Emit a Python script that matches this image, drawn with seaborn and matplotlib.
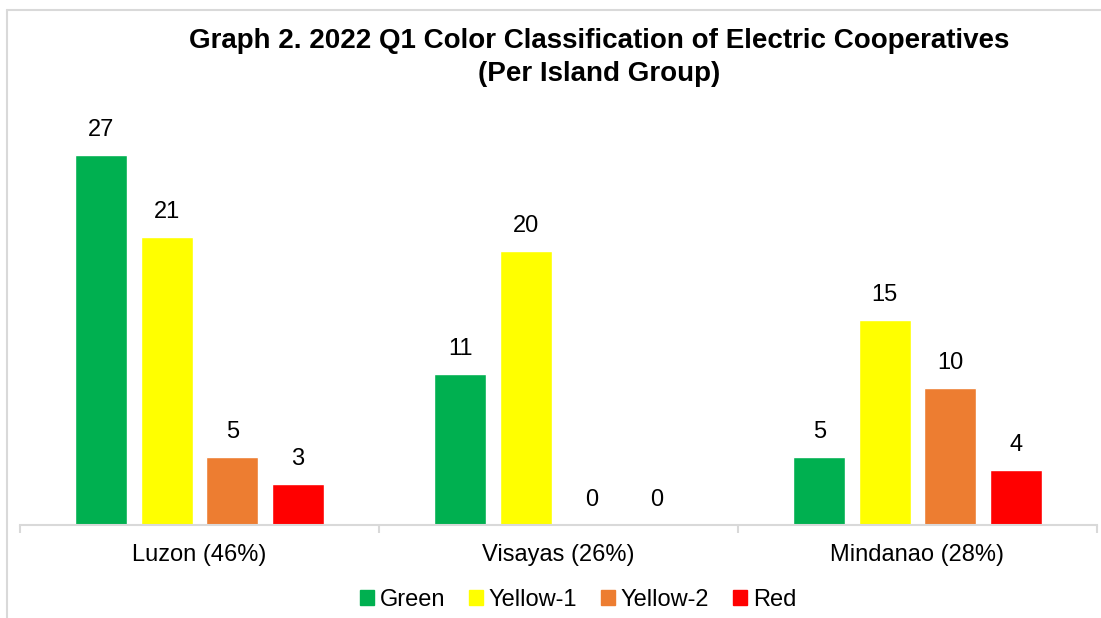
import pandas as pd
import numpy as np
import matplotlib.pyplot as plt
import seaborn as sns
from matplotlib.lines import Line2D

# Chart values
islands = ['Luzon (46%)', 'Visayas (26%)', 'Mindanao (28%)']
classes = ['Green', 'Yellow-1', 'Yellow-2', 'Red']
green = [27, 11, 5]
yellow1 = [21, 20, 15]
yellow2 = [5, 0, 10]
red = [3, 0, 4]
palette = ['#00B050', '#FFFF00', '#ED7D31', '#FF0000']

# Long-format table for seaborn
rows = []
for cls, vals in zip(classes, [green, yellow1, yellow2, red]):
    for isl, v in zip(islands, vals):
        rows.append({'Island': isl, 'Class': cls, 'Count': v})
df = pd.DataFrame(rows)

sns.set_style('white')
plt.rcParams['font.family'] = ['Liberation Sans', 'DejaVu Sans']
plt.rcParams['text.color'] = 'black'
plt.rcParams['xtick.labelcolor'] = 'black'

fig = plt.figure(figsize=(11.01, 6.18), dpi=100)
ax = fig.add_axes([20 / 1101, 1 - 525 / 618, 1077 / 1101, 411 / 618])

sns.barplot(data=df, x='Island', y='Count', hue='Class', order=islands,
            hue_order=classes, palette=palette, width=0.73, gap=0.21,
            saturation=1, ax=ax, legend=False)

for cont in ax.containers:
    ax.bar_label(cont, padding=10, fontsize=17, color='black')

ax.set_xlim(-0.5, 2.5)
ax.set_ylim(0, 30)
ax.set_xlabel('')
ax.set_ylabel('')
ax.set_yticks([])
for s in ['top', 'right', 'left']:
    ax.spines[s].set_visible(False)
ax.spines['bottom'].set_color('#d9d9d9')
ax.spines['bottom'].set_linewidth(1.5)
ax.tick_params(axis='x', which='major', length=0, labelsize=17, pad=14,
               labelcolor='black')
ax.set_xticks([-0.5, 0.5, 1.5, 2.5], minor=True)
ax.tick_params(axis='x', which='minor', bottom=True, length=6, width=1.5,
               color='#d9d9d9', direction='out')

# Legend with square markers
handles = [plt.Rectangle((0, 0), 1, 1, color=c) for c in palette]
fig.legend(handles, classes, loc='center', bbox_to_anchor=(0.525, 1 - 600 / 618),
           ncol=4, frameon=False, fontsize=17, handlelength=0.6,
           handleheight=0.6, handletextpad=0.25, columnspacing=1.0)

fig.text(0.544, 1 - 41 / 618, 'Graph 2. 2022 Q1 Color Classification of Electric Cooperatives',
         ha='center', va='center', fontsize=20, fontweight='bold')
fig.text(0.544, 1 - 74 / 618, '(Per Island Group)',
         ha='center', va='center', fontsize=20, fontweight='bold')

# Chart area border (cropped on right and bottom)
fig.add_artist(Line2D([7 / 1101, 7 / 1101], [0, 1 - 10 / 618],
                      transform=fig.transFigure, color='#d9d9d9', lw=1.5))
fig.add_artist(Line2D([7 / 1101, 1], [1 - 10 / 618, 1 - 10 / 618],
                      transform=fig.transFigure, color='#d9d9d9', lw=1.5))

fig.savefig('out.png', dpi=100)
